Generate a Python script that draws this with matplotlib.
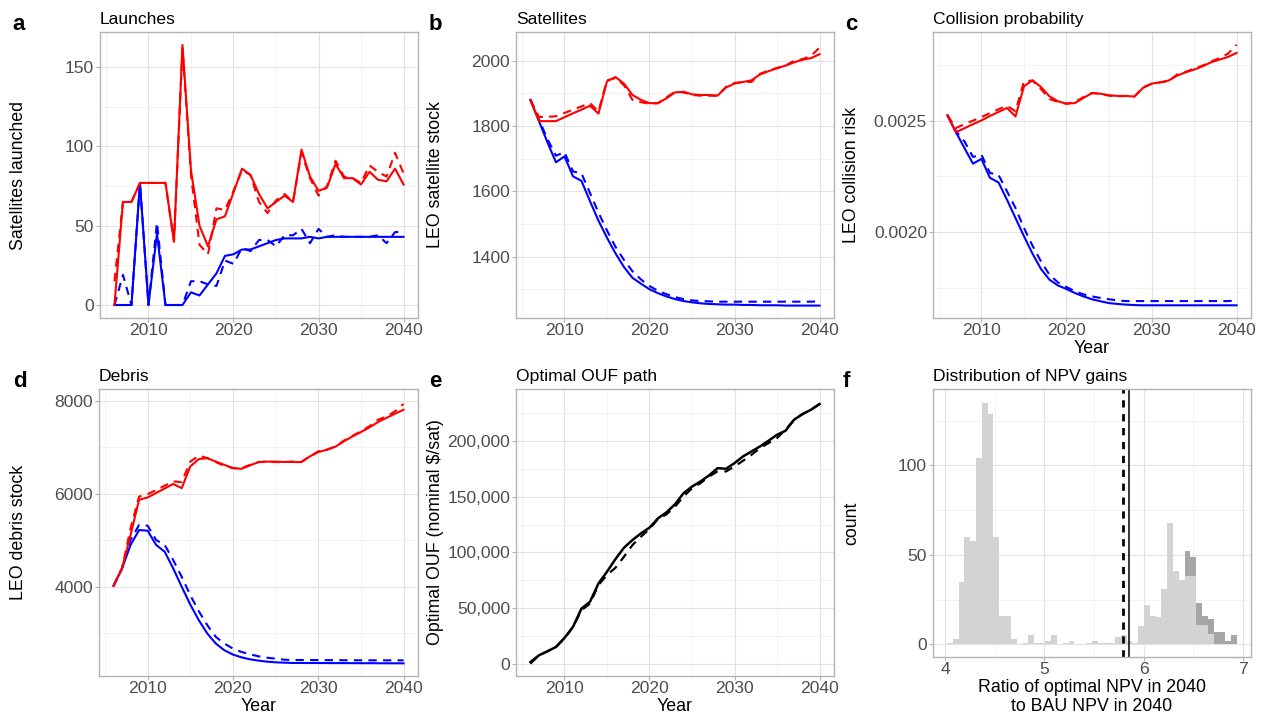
import matplotlib
matplotlib.use("Agg")
import numpy as np
import matplotlib.pyplot as plt
from matplotlib.ticker import MultipleLocator, FuncFormatter

plt.rcParams['font.family'] = ['Liberation Sans', 'DejaVu Sans']

# -----------------------------
# DATA
# -----------------------------
years = list(range(2006, 2041))

# a: satellites launched per year
launch_oa = [0, 65, 65, 77, 77, 77, 77, 40, 164, 85,
             50, 37, 54, 56, 71, 86, 82, 70, 61, 65,
             69, 65, 98, 81, 72, 74, 89, 80, 80, 76,
             84, 79, 78, 86, 76]
launch_oa_alt = [15, 65, 65, 77, 77, 77, 77, 40, 162, 82,
                 38, 32, 61, 60, 72, 85, 82, 65, 58, 66,
                 70, 65, 96, 80, 69, 75, 91, 81, 80, 77,
                 88, 84, 81, 96, 83]
launch_opt = [0, 0, 0, 77, 0, 45, 0, 0, 0, 8,
              6, 13, 20, 31, 32, 35, 35, 37, 39, 41,
              42, 42, 42, 43, 42, 43, 43, 43, 43, 43,
              43, 43, 43, 43, 43]
launch_opt_alt = [0, 19, 0, 77, 0, 52, 0, 0, 0, 15,
                  15, 13, 12, 28, 26, 36, 34, 41, 41, 37,
                  44, 44, 48, 39, 48, 43, 44, 43, 43, 43,
                  43, 44, 39, 46, 46]

# b: LEO satellite stock
sat_oa = [1880, 1815, 1815, 1815, 1827, 1839, 1850, 1862, 1838, 1937,
          1950, 1930, 1895, 1880, 1870, 1870, 1885, 1903, 1905, 1897,
          1895, 1895, 1893, 1918, 1930, 1935, 1940, 1958, 1968, 1977,
          1985, 1995, 2003, 2008, 2020]
sat_oa_alt = [1880, 1828, 1828, 1830, 1840, 1850, 1860, 1870, 1845, 1940,
              1947, 1925, 1880, 1873, 1868, 1870, 1888, 1905, 1903, 1895,
              1893, 1893, 1893, 1920, 1932, 1935, 1935, 1960, 1970, 1978,
              1985, 2000, 2005, 2015, 2040]
sat_opt = [1880, 1815, 1750, 1689, 1707, 1646, 1632, 1570, 1510, 1458,
           1410, 1368, 1335, 1317, 1300, 1288, 1278, 1270, 1264, 1260,
           1257, 1255, 1254, 1253, 1253, 1252, 1252, 1251, 1251, 1251,
           1250, 1250, 1250, 1250, 1250]
sat_opt_alt = [1880, 1820, 1760, 1709, 1720, 1661, 1655, 1595, 1535, 1480,
               1430, 1390, 1355, 1330, 1310, 1295, 1285, 1276, 1270, 1266,
               1264, 1263, 1262, 1262, 1262, 1262, 1262, 1262, 1262, 1262,
               1262, 1262, 1262, 1262, 1263]

# c: LEO collision risk
risk_oa = [0.002524, 0.002448, 0.002466, 0.002484, 0.002501, 0.002521, 0.002539, 0.002557, 0.002519, 0.002654,
           0.002681, 0.002651, 0.002609, 0.002587, 0.002576, 0.002579, 0.002602, 0.002624, 0.002621, 0.002614,
           0.002611, 0.002611, 0.002608, 0.002647, 0.002666, 0.002672, 0.002680, 0.002702, 0.002717, 0.002729,
           0.002744, 0.002762, 0.002774, 0.002786, 0.002804]
risk_oa_alt = [0.002524, 0.002467, 0.002484, 0.002500, 0.002516, 0.002534, 0.002551, 0.002567, 0.002542, 0.002677,
               0.002680, 0.002642, 0.002597, 0.002584, 0.002576, 0.002584, 0.002606, 0.002624, 0.002620, 0.002612,
               0.002609, 0.002611, 0.002609, 0.002650, 0.002665, 0.002672, 0.002677, 0.002707, 0.002719, 0.002734,
               0.002747, 0.002766, 0.002781, 0.002801, 0.002841]
risk_opt = [0.002524, 0.002448, 0.002377, 0.002307, 0.002328, 0.002243, 0.002223, 0.002145, 0.002063, 0.001981,
            0.001903, 0.001834, 0.001786, 0.001760, 0.001744, 0.001726, 0.001711, 0.001698, 0.001689, 0.001681,
            0.001677, 0.001674, 0.001672, 0.001671, 0.001671, 0.001671, 0.001671, 0.001671, 0.001671, 0.001671,
            0.001671, 0.001671, 0.001671, 0.001671, 0.001671]
risk_opt_alt = [0.002524, 0.002452, 0.002407, 0.002337, 0.002347, 0.002265, 0.002257, 0.002183, 0.002108, 0.002018,
                0.001939, 0.001868, 0.001808, 0.001774, 0.001753, 0.001734, 0.001720, 0.001711, 0.001704, 0.001698,
                0.001693, 0.001690, 0.001690, 0.001690, 0.001690, 0.001690, 0.001690, 0.001690, 0.001690, 0.001690,
                0.001690, 0.001690, 0.001690, 0.001690, 0.001692]

# d: LEO debris stock
debris_oa = [4020, 4395, 5113, 5870, 5920, 6017, 6113, 6210, 6120, 6587,
             6745, 6765, 6690, 6620, 6550, 6535, 6610, 6680, 6690, 6690,
             6683, 6683, 6680, 6800, 6895, 6945, 7010, 7125, 7230, 7325,
             7425, 7540, 7630, 7720, 7805]
debris_oa_alt = [4020, 4395, 5257, 5940, 5990, 6082, 6173, 6265, 6250, 6690,
                 6820, 6765, 6680, 6600, 6550, 6550, 6620, 6680, 6690, 6680,
                 6680, 6690, 6680, 6800, 6910, 6945, 7015, 7140, 7245, 7340,
                 7450, 7590, 7660, 7770, 7930]
debris_opt = [4020, 4395, 4899, 5220, 5206, 4899, 4755, 4395, 4000, 3619,
              3282, 2995, 2780, 2636, 2543, 2485, 2442, 2413, 2391, 2377,
              2370, 2363, 2363, 2362, 2362, 2361, 2360, 2360, 2359, 2358,
              2358, 2357, 2356, 2356, 2355]
debris_opt_alt = [4020, 4395, 5006, 5329, 5314, 5006, 4899, 4575, 4215, 3820,
                  3476, 3174, 2923, 2780, 2672, 2600, 2549, 2506, 2477, 2456,
                  2434, 2427, 2427, 2426, 2425, 2424, 2423, 2422, 2421, 2421,
                  2420, 2420, 2420, 2420, 2420]

# e: optimal orbital-use fee path
ouf = [1500, 7500, 11100, 15000, 23100, 33000, 49500, 55600, 72100, 82600,
       94000, 104200, 111100, 117100, 122200, 130600, 136000, 143200, 153150, 159100,
       163700, 169100, 175700, 175100, 180200, 186200, 190700, 195200, 200300, 205700,
       209300, 219200, 224300, 228200, 233300]
ouf_alt = [0, 7500, 11100, 15000, 22500, 33000, 48000, 54000, 70600, 79600,
           86200, 96100, 106600, 114100, 121000, 130000, 134200, 141100, 150150, 157700,
           162200, 168200, 172700, 172700, 177200, 182300, 187700, 193700, 198200, 202700,
           210200, 219200, 224300, 228200, 233300]

# f: NPV ratio histogram (50 bins)
ratio_lo, ratio_hi, n_bins = 4.017, 6.94, 50
count_light = [1, 3, 35, 60, 58, 104, 135, 129, 60, 16,
               16, 3, 0, 1, 5, 1, 1, 2, 5, 0,
               1, 2, 0, 0, 1, 2, 1, 1, 1, 4,
               5, 2, 1, 10, 22, 16, 15, 31, 68, 41,
               36, 38, 38, 11, 11, 6, 0, 0, 0, 0]
count_dark = [0] * 41 + [14, 11, 12, 5, 8, 7, 7, 2, 5]
ratio_dashed = 5.791
ratio_solid = 5.858

# -----------------------------
# STYLE HELPERS
# -----------------------------
W, H = 1266, 719
GRID = '#E3E3E3'
BORDER = '#B3B3B3'
TICKLAB = '#4D4D4D'


def px_box(l, t, r, b):
    return [l / W, 1 - b / H, (r - l) / W, (b - t) / H]


def style_axes(ax, xmaj, xmin, ymaj, ymin):
    ax.xaxis.set_major_locator(MultipleLocator(xmaj))
    ax.xaxis.set_minor_locator(MultipleLocator(xmin))
    ax.yaxis.set_major_locator(MultipleLocator(ymaj))
    ax.yaxis.set_minor_locator(MultipleLocator(ymin))
    for s in ax.spines.values():
        s.set_color(BORDER)
        s.set_linewidth(1.0)
    ax.grid(which='major', color=GRID, lw=0.8)
    ax.grid(which='minor', color='#EEEEEE', lw=0.5)
    ax.set_axisbelow(True)
    ax.tick_params(which='major', length=2.75, width=0.8, color=BORDER,
                   labelsize=12.6, labelcolor=TICKLAB)
    ax.tick_params(which='minor', length=0)
    ax.tick_params(axis='x', pad=1.0)
    ax.tick_params(axis='y', pad=1.5)


def year_panel(ax, title, oa, oa_alt, opt, opt_alt):
    ax.plot(years, opt, color='blue', lw=1.5)
    ax.plot(years, opt_alt, color='blue', lw=1.5, ls=(0, (4, 3)))
    ax.plot(years, oa, color='red', lw=1.5)
    ax.plot(years, oa_alt, color='red', lw=1.5, ls=(0, (4, 3)))
    ax.set_xlim(2004.3, 2041.7)
    ax.set_title(title, loc='left', fontsize=12.6, pad=6)


fig = plt.figure(figsize=(W / 100, H / 100), dpi=100)

ax_a = fig.add_axes(px_box(100, 32, 418, 318))
ax_b = fig.add_axes(px_box(516, 32, 834, 318))
ax_c = fig.add_axes(px_box(933, 32, 1251, 318))
ax_d = fig.add_axes(px_box(99, 389, 418, 676))
ax_e = fig.add_axes(px_box(516, 389, 834, 676))
ax_f = fig.add_axes(px_box(933, 389, 1251, 657))

# a
year_panel(ax_a, "Launches", launch_oa, launch_oa_alt, launch_opt, launch_opt_alt)
ax_a.set_ylim(-8.2, 172.2)
style_axes(ax_a, 10, 5, 50, 25)

# b
year_panel(ax_b, "Satellites", sat_oa, sat_oa_alt, sat_opt, sat_opt_alt)
ax_b.set_ylim(1212, 2088)
style_axes(ax_b, 10, 5, 200, 100)

# c
year_panel(ax_c, "Collision probability", risk_oa, risk_oa_alt, risk_opt, risk_opt_alt)
ax_c.set_ylim(0.001614, 0.002898)
style_axes(ax_c, 10, 5, 0.0005, 0.00025)
ax_c.yaxis.set_major_formatter(FuncFormatter(lambda v, p: f"{v:.4f}"))

# d
year_panel(ax_d, "Debris", debris_oa, debris_oa_alt, debris_opt, debris_opt_alt)
ax_d.set_ylim(2083, 8251)
style_axes(ax_d, 10, 5, 2000, 1000)

# e
ax_e.plot(years, ouf, color='black', lw=1.8)
ax_e.plot(years, ouf_alt, color='black', lw=1.6, ls=(0, (4, 3)))
ax_e.set_xlim(2004.3, 2041.7)
ax_e.set_ylim(-11100, 246800)
ax_e.set_title("Optimal OUF path", loc='left', fontsize=12.6, pad=6)
style_axes(ax_e, 10, 5, 50000, 25000)
ax_e.yaxis.set_major_formatter(FuncFormatter(lambda v, p: f"{v:,.0f}"))

# f
edges = np.linspace(ratio_lo, ratio_hi, n_bins + 1)
bw = edges[1] - edges[0]
ax_f.bar(edges[:-1], count_light, width=bw, align='edge', color='#D3D3D3', lw=0)
ax_f.bar(edges[:-1], count_dark, width=bw, align='edge', bottom=count_light,
         color='#A6A6A6', lw=0)
ax_f.axvline(ratio_dashed, color='black', lw=2.0, ls=(0, (2.6, 2.4)))
ax_f.axvline(ratio_solid, color='black', lw=1.1)
ax_f.set_xlim(3.876, 7.084)
ax_f.set_ylim(-7.1, 142.7)
ax_f.set_title("Distribution of NPV gains", loc='left', fontsize=12.6, pad=6)
style_axes(ax_f, 1, 0.5, 50, 25)

# axis labels
lab = dict(fontsize=12.8, color='black')
for x_px, y_px, text in [(18.5, 175, "Satellites launched"),
                         (435, 175, "LEO satellite stock"),
                         (851.5, 175, "LEO collision risk"),
                         (18.5, 532, "LEO debris stock"),
                         (435, 532, "Optimal OUF (nominal \\$/sat)"),
                         (852, 523, "count")]:
    fig.text(x_px / W, 1 - y_px / H, text, rotation=90, ha='center', va='center', **lab)

for ax in (ax_c, ax_d, ax_e):
    ax.set_xlabel("Year", labelpad=1, **lab)
ax_f.set_xlabel("Ratio of optimal NPV in 2040\nto BAU NPV in 2040", labelpad=1,
                linespacing=1.2, **lab)

# panel letters
for x_px, y_px, letter in [(12, 29.5, 'a'), (429, 30.5, 'b'), (845, 30, 'c'),
                           (13, 387, 'd'), (429, 387, 'e'), (843, 387, 'f')]:
    fig.text(x_px / W, 1 - y_px / H, letter, fontsize=16, fontweight='bold',
             ha='left', va='baseline')

fig.savefig("out.png", dpi=100, facecolor='white')
